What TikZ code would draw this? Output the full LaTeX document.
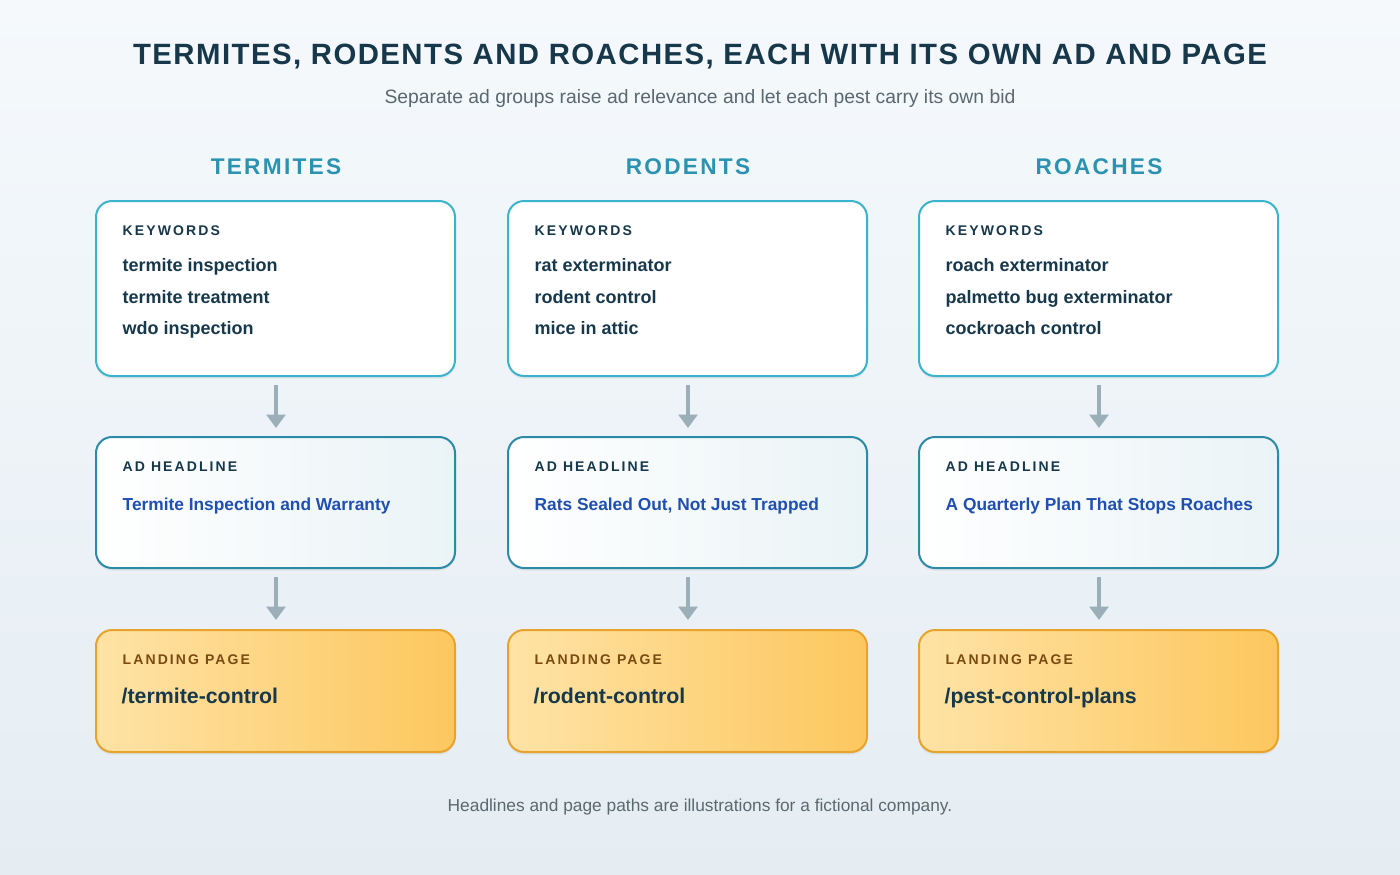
\documentclass[tikz,border=0pt]{standalone}
\usepackage{fontspec}
\setmainfont{Liberation Sans}
\usetikzlibrary{arrows.meta,shadows}
\definecolor{ttl}{HTML}{17384A}
\definecolor{sub}{HTML}{5A6870}
\definecolor{hdr}{HTML}{2B93B1}
\definecolor{kwb}{HTML}{3AB3CC}
\definecolor{hlb}{HTML}{2B8AA6}
\definecolor{hlt}{HTML}{1F4FB0}
\definecolor{lpb}{HTML}{E9A22B}
\definecolor{lpl}{HTML}{7A4A10}
\definecolor{lpa}{HTML}{FEE3A6}
\definecolor{lpz}{HTML}{FDC75E}
\definecolor{arr}{HTML}{9AAFB7}
\definecolor{bgt}{HTML}{F5F9FC}
\definecolor{bgb}{HTML}{E5EDF3}
\begin{document}
\begin{tikzpicture}[x=0.75pt,y=-0.75pt,
 box/.style={rounded corners=12pt,line width=1.5pt,drop shadow={shadow xshift=0pt,shadow yshift=-2pt,opacity=0.12}},
 kw/.style={box,draw=kwb,fill=white},
 hl/.style={box,draw=hlb,left color=white,right color=hlb!10},
 lp/.style={box,draw=lpb,left color=lpa,right color=lpz},
 lab/.style={anchor=base west,font=\bfseries\fontsize{10.5}{12}\selectfont,color=ttl},
 item/.style={anchor=base west,font=\bfseries\fontsize{13.5}{16}\selectfont,color=ttl},
 hd/.style={font=\bfseries\fontsize{17}{20}\selectfont,color=hdr},
 ar/.style={draw=arr,line width=2.5pt,-{Triangle[length=10pt,width=14pt]}}]
\shade[top color=bgt,bottom color=bgb] (0,0) rectangle (1400,875);
\useasboundingbox (0,0) rectangle (1400,875);
\node (title) at (700,57) {\bfseries\fontsize{22}{26}\selectfont\color{ttl}\addfontfeature{LetterSpace=5}TERMITES, RODENTS AND ROACHES, EACH WITH ITS OWN AD AND PAGE};
\node (subtitle) at (700,98) {\fontsize{14.5}{17}\selectfont\color{sub}Separate ad groups raise ad relevance and let each pest carry its own bid};
\node (foot) at (700,807) {\fontsize{13}{16}\selectfont\color{sub}Headlines and page paths are illustrations for a fictional company.};
\foreach \i/\x/\h/\ka/\kb/\kc/\hh/\pp in {
 1/96/TERMITES/termite inspection/termite treatment/wdo inspection/Termite Inspection and Warranty/{/termite-control},
 2/508/RODENTS/rat exterminator/rodent control/mice in attic/{Rats Sealed Out, Not Just Trapped}/{/rodent-control},
 3/919/ROACHES/roach exterminator/palmetto bug exterminator/cockroach control/A Quarterly Plan That Stops Roaches/{/pest-control-plans}}{
 \node[hd] (h\i) at (\x+180,167) {\addfontfeature{LetterSpace=10}\h};
 \draw[kw] (\x,201) rectangle (\x+359,376);
 \coordinate (k\i) at (\x+180,385);
 \draw[hl] (\x,437) rectangle (\x+359,568);
 \coordinate (a\i) at (\x+180,428);
 \coordinate (b\i) at (\x+180,577);
 \draw[lp] (\x,630) rectangle (\x+359,752);
 \coordinate (c\i) at (\x+180,620);
 \draw[ar] (k\i) -- (a\i);
 \draw[ar] (b\i) -- (c\i);
 \node[lab] (kl\i) at (\x+22,235) {\addfontfeature{LetterSpace=15}KEYWORDS};
 \node[item] (ka\i) at (\x+22,271) {\ka};
 \node[item] (kb\i) at (\x+22,303) {\kb};
 \node[item] (kc\i) at (\x+22,334) {\kc};
 \node[lab] (hl\i) at (\x+22,471) {\addfontfeature{LetterSpace=15}AD HEADLINE};
 \node[item,color=hlt,font=\bfseries\fontsize{13}{16}\selectfont] (ht\i) at (\x+22,510) {\hh};
 \node[lab,color=lpl] (ll\i) at (\x+22,664) {\addfontfeature{LetterSpace=15}LANDING PAGE};
 \node[item,font=\bfseries\fontsize{16}{19}\selectfont] (lt\i) at (\x+21,703) {\pp};
}
\end{tikzpicture}
\end{document}
